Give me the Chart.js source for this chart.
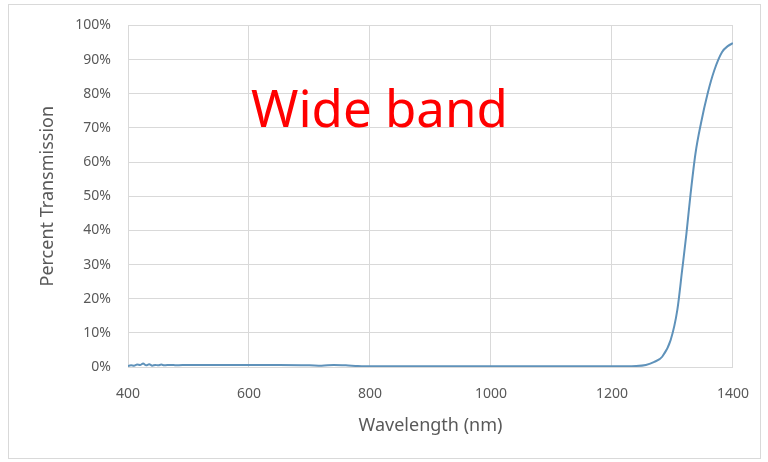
<!DOCTYPE html>
<html>
<head>
<meta charset="utf-8">
<script src="https://cdn.jsdelivr.net/npm/chart.js@4.4.1/dist/chart.umd.min.js"></script>
<style>
    html, body { margin: 0; padding: 0; background: #ffffff; }
    #wrap { position: relative; width: 768px; height: 462px; }
    #frame { position: absolute; left: 8px; top: 4px; width: 753px; height: 455px; border: 1px solid #d9d9d9; box-sizing: border-box; pointer-events: none; }
    #note { position: absolute; left: 251px; top: 82px; font-family: "Noto Sans", sans-serif; font-size: 51px; color: #ff0000; white-space: nowrap; line-height: 1; }
</style>
</head>
<body>
<div id="wrap">
    <canvas id="spectrumChart" width="768" height="462"></canvas>
    <div id="frame"></div>
    <div id="note">Wide band</div>
</div>
<script>
// Transmission spectrum data
const wavelengths = [400, 405, 410, 415, 420, 425, 430, 435, 440, 445, 450, 455, 460, 470, 480, 500, 550, 600, 650, 700, 720, 740, 760, 780, 800, 850, 900, 1000, 1100, 1200, 1240, 1256, 1270, 1283, 1297, 1308, 1316, 1323, 1330, 1338, 1347, 1358, 1369, 1382, 1392, 1400];
const transmission = [0.3, 0.5, 0.4, 0.7, 0.6, 1.0, 0.5, 0.8, 0.4, 0.6, 0.5, 0.7, 0.5, 0.6, 0.5, 0.6, 0.6, 0.6, 0.6, 0.5, 0.4, 0.6, 0.5, 0.3, 0.2, 0.2, 0.2, 0.2, 0.2, 0.2, 0.3, 0.6, 1.5, 3.0, 7.9, 16.7, 28.4, 39.0, 50.8, 62.5, 71.3, 80.0, 86.8, 92.2, 94.0, 94.8];
const xTicks = [400, 600, 800, 1000, 1200, 1400];
const yTicks = [0, 10, 20, 30, 40, 50, 60, 70, 80, 90, 100];

const points = wavelengths.map((w, i) => ({ x: w, y: transmission[i] }));
const tickFont = { family: 'Noto Sans', size: 14 };
const titleFont = { family: 'Noto Sans', size: 18 };

const ctx = document.getElementById('spectrumChart');
new Chart(ctx, {
    type: 'line',
    data: {
        datasets: [{
            label: 'Wide band',
            data: points,
            borderColor: '#5f92ba',
            borderWidth: 2,
            pointRadius: 0,
            cubicInterpolationMode: 'monotone',
            fill: false
        }]
    },
    options: {
        responsive: false,
        animation: false,
        layout: {
            padding: { left: 37, right: 34, top: 25, bottom: 0 }
        },
        plugins: {
            legend: { display: false },
            tooltip: { enabled: false }
        },
        scales: {
            x: {
                type: 'linear',
                min: 400,
                max: 1400,
                afterBuildTicks: function(scale) {
                    scale.ticks = xTicks.map(v => ({ value: v }));
                },
                afterFit: function(scale) {
                    scale.height = 95;
                },
                grid: { color: '#d9d9d9', drawTicks: false },
                border: { color: '#d9d9d9' },
                ticks: {
                    color: '#595959',
                    font: tickFont,
                    padding: 19,
                    maxRotation: 0,
                    callback: function(value) {
                        return String(value);
                    }
                },
                title: {
                    display: true,
                    text: 'Wavelength (nm)',
                    color: '#595959',
                    font: titleFont,
                    padding: { top: 8, bottom: 25 }
                }
            },
            y: {
                min: 0,
                max: 100,
                afterBuildTicks: function(scale) {
                    scale.ticks = yTicks.map(v => ({ value: v }));
                },
                afterFit: function(scale) {
                    scale.width = 91;
                },
                grid: { color: '#d9d9d9', drawTicks: false },
                border: { color: '#d9d9d9' },
                ticks: {
                    color: '#595959',
                    font: tickFont,
                    padding: 17,
                    callback: function(value) {
                        return value + '%';
                    }
                },
                title: {
                    display: true,
                    text: 'Percent Transmission',
                    color: '#595959',
                    font: titleFont,
                    padding: { top: 0, bottom: 0 }
                }
            }
        }
    }
});
</script>
</body>
</html>
